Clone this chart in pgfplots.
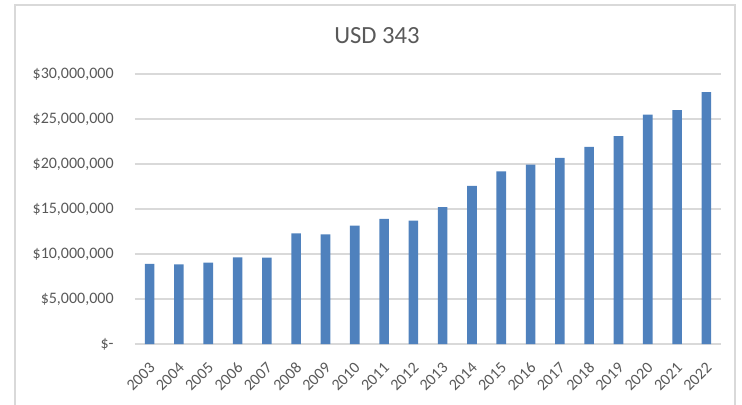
\documentclass[border=0pt]{standalone}
\usepackage{fontspec}
\setmainfont{Carlito}
\usepackage{pgfplots}
\pgfplotsset{compat=1.18}
\definecolor{barblue}{HTML}{4F81BD}
\definecolor{gridgray}{HTML}{D9D9D9}
\definecolor{txtgray}{HTML}{595959}

\begin{document}
\begin{tikzpicture}[x=1pt,y=1pt]
\useasboundingbox (-101.25,-45) rectangle (455.25,258);
% chart frame
\draw[gridgray,line width=0.9pt] (-90,-60) rectangle (450,254.25);
\node[txtgray,font=\fontsize{18.5}{22}\selectfont] at (181.5,231) {USD 343};
\begin{axis}[
  at={(0,0)}, anchor=south west,
  scale only axis,
  width=439.5pt, height=202.5pt,
  ybar, bar width=7.2pt,
  xmin=-0.5, xmax=19.5,
  ymin=0, ymax=30000000,
  xtick=data,
  xticklabels={2003,2004,2005,2006,2007,2008,2009,2010,2011,2012,2013,2014,2015,2016,2017,2018,2019,2020,2021,2022},
  ytick={0,5000000,10000000,15000000,20000000,25000000,30000000},
  yticklabels={\$-,{\$5,000,000},{\$10,000,000},{\$15,000,000},{\$20,000,000},{\$25,000,000},{\$30,000,000}},
  scaled y ticks=false,
  major tick length=0pt,
  axis y line*=left,
  axis x line*=bottom,
  y axis line style={draw=none},
  x axis line style={gridgray,line width=0.8pt,-},
  ymajorgrids, grid style={gridgray,line width=0.8pt},
  ticklabel style={txtgray,font=\fontsize{12}{14}\selectfont},
  yticklabel style={anchor=east,xshift=-12.5pt},
  xticklabel style={xshift=4.4pt,yshift=-13.4pt,rotate=45,anchor=east},
  clip=false,
]
\addplot[fill=barblue,draw=none] coordinates {
  (0,8890000) (1,8850000) (2,9040000) (3,9630000) (4,9590000)
  (5,12300000) (6,12180000) (7,13150000) (8,13890000) (9,13700000)
  (10,15200000) (11,17560000) (12,19190000) (13,19930000) (14,20670000)
  (15,21890000) (16,23110000) (17,25480000) (18,26000000) (19,28000000)
};
\end{axis}
\end{tikzpicture}
\end{document}
